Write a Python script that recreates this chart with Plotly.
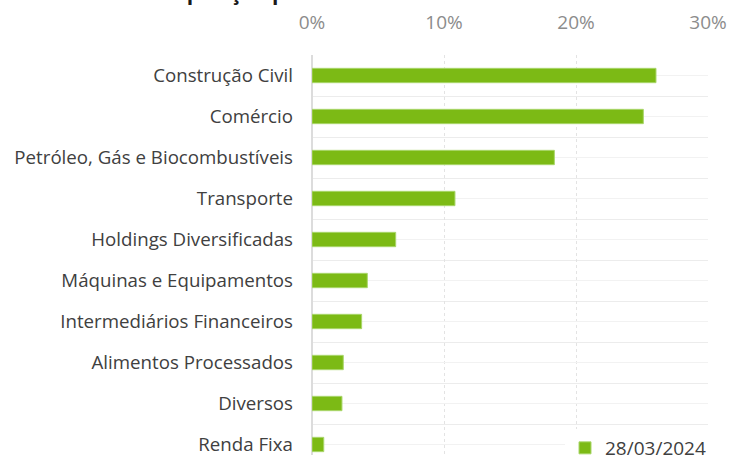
import plotly.graph_objects as go

title_text = "Exposição por setor econômico"
series_name = "28/03/2024"
categories = [
    "Construção Civil",
    "Comércio",
    "Petróleo, Gás e Biocombustíveis",
    "Transporte",
    "Holdings Diversificadas",
    "Máquinas e Equipamentos",
    "Intermediários Financeiros",
    "Alimentos Processados",
    "Diversos",
    "Renda Fixa",
]
values = [26.06, 25.1, 18.36, 10.83, 6.34, 4.19, 3.76, 2.37, 2.27, 0.89]
x_ticks = [0, 10, 20, 30]
x_tick_labels = [f"{v}%" for v in x_ticks]

positions = list(range(len(categories)))

fig = go.Figure(
    go.Bar(
        x=values,
        y=positions,
        orientation="h",
        width=0.35,
        name=series_name,
        showlegend=True,
        marker=dict(color="#7cba15", line=dict(color="#a9d66a", width=1)),
        hoverinfo="x+y",
    )
)

W, H = 730, 455
top, left, right = 55, 312, 22
cat_px = 41.0
plot_h = H - top
plot_w = W - left - right
y_end = -0.5 + plot_h / cat_px

fig.update_layout(
    width=W,
    height=H,
    margin=dict(l=left, r=right, t=top, b=0, pad=0, autoexpand=False),
    paper_bgcolor="white",
    plot_bgcolor="white",
    font=dict(family="Open Sans", color="#404040"),
    title=dict(
        text=title_text,
        font=dict(family="Open Sans", size=21, color="#1a1a1a", weight="bold"),
        x=325 / W,
        xanchor="center",
        xref="container",
        yref="container",
        y=1 - 0.5 / H,
        yanchor="bottom",
        pad=dict(b=1),
    ),
    xaxis=dict(
        side="top",
        range=[0, 30],
        tickvals=x_ticks,
        ticktext=x_tick_labels,
        showgrid=True,
        gridcolor="#e3e3e3",
        griddash="dot",
        gridwidth=1,
        zeroline=True,
        zerolinecolor="#dcdcdc",
        zerolinewidth=2,
        ticks="",
        ticklabelstandoff=21,
        ticklabeloverflow="allow",
        tickfont=dict(size=19, color="#8c8c8c"),
        fixedrange=True,
    ),
    yaxis=dict(
        range=[y_end, -0.5],
        tickvals=positions,
        ticktext=categories,
        showgrid=True,
        gridcolor="#f2f2f2",
        gridwidth=1,
        minor=dict(tick0=0.5, dtick=1, showgrid=True, gridcolor="#ececec", gridwidth=1),
        zeroline=False,
        ticks="",
        ticklabelstandoff=18,
        ticklabeloverflow="allow",
        tickfont=dict(size=18.7, color="#404040"),
        fixedrange=True,
    ),
    legend=dict(
        x=1 + 3 / plot_w,
        xanchor="right",
        y=(H - 429) / plot_h,
        yanchor="top",
        bgcolor="white",
        font=dict(size=19, color="#404040"),
        itemwidth=30,
    ),
)

fig.write_html(
    "out.html",
    config={"displayModeBar": False},
    post_script="document.body.style.margin='0px';document.body.style.padding='0px';",
)
